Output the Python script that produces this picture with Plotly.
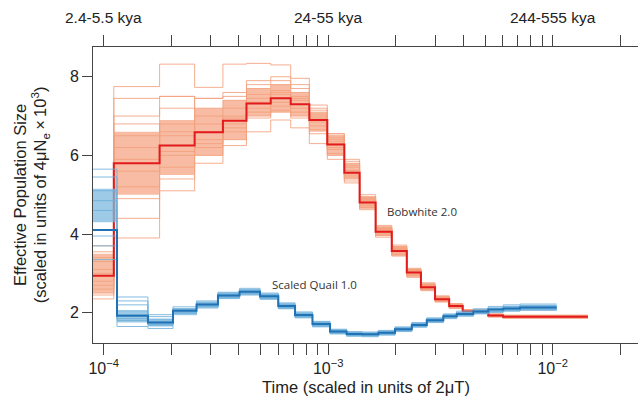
import plotly.graph_objects as go

# ---------------- data ----------------
# Bobwhite 2.0: step start times (last value = end of final step)
bobwhite_time = [8.95e-5, 1.109e-4, 1.774e-4, 2.541e-4, 3.396e-4, 4.325e-4, 5.546e-4,
                 6.808e-4, 8.241e-4, 9.908e-4, 1.180e-3, 1.380e-3, 1.626e-3, 1.919e-3,
                 2.239e-3, 2.588e-3, 2.992e-3, 3.459e-3, 3.972e-3, 5.164e-3, 6.010e-3, 1.435e-2]
bobwhite_ne = [2.94, 5.80, 6.25, 6.59, 6.88, 7.32, 7.45, 7.30, 6.90, 6.28, 5.56,
               4.80, 4.06, 3.57, 3.02, 2.65, 2.34, 2.17, 2.03, 1.93, 1.90]
bobwhite_band_lo = [2.50, 5.00, 5.50, 6.00, 6.40, 7.00, 7.10, 7.00, 6.60, 6.00, 5.40,
                    4.65, 3.95, 3.45, 2.92, 2.57, 2.28, 2.12, 1.98, 1.89, 1.86]
bobwhite_band_hi = [3.50, 6.60, 6.90, 7.20, 7.40, 7.70, 7.80, 7.60, 7.10, 6.50, 5.80,
                    4.95, 4.20, 3.70, 3.12, 2.75, 2.42, 2.23, 2.08, 1.97, 1.94]
bobwhite_boot = [
    [3.70, 7.75, 8.32, 7.73, 8.32, 8.34, 8.30, 7.96, 7.28, 6.55, 5.90, 5.00, 4.22, 3.72, 3.13, 2.76, 2.43, 2.23, 2.08, 1.97, 1.94],
    [2.35, 3.90, 5.10, 5.80, 6.25, 6.60, 6.90, 6.70, 6.30, 5.90, 5.30, 4.62, 3.92, 3.44, 2.90, 2.56, 2.27, 2.11, 1.98, 1.89, 1.86],
    [3.40, 7.45, 7.50, 7.45, 7.60, 7.90, 8.00, 7.80, 7.15, 6.50, 5.80, 4.95, 4.18, 3.68, 3.10, 2.73, 2.40, 2.21, 2.06, 1.96, 1.92],
    [2.60, 4.40, 5.40, 6.00, 6.40, 6.95, 7.10, 6.95, 6.55, 6.00, 5.40, 4.68, 3.97, 3.47, 2.94, 2.59, 2.30, 2.13, 2.00, 1.90, 1.88],
    [3.10, 7.00, 7.20, 7.20, 7.40, 7.70, 7.80, 7.60, 7.05, 6.40, 5.70, 4.90, 4.12, 3.62, 3.07, 2.70, 2.38, 2.20, 2.05, 1.95, 1.91],
    [2.80, 5.20, 5.70, 6.20, 6.60, 7.10, 7.25, 7.10, 6.75, 6.15, 5.45, 4.72, 4.00, 3.52, 2.97, 2.62, 2.32, 2.15, 2.01, 1.91, 1.89],
    [3.30, 6.50, 6.80, 7.00, 7.20, 7.55, 7.65, 7.45, 6.95, 6.35, 5.62, 4.85, 4.10, 3.60, 3.05, 2.68, 2.36, 2.19, 2.04, 1.94, 1.91],
    [2.50, 4.90, 6.00, 6.40, 6.80, 7.20, 7.35, 7.20, 6.85, 6.20, 5.50, 4.76, 4.03, 3.55, 3.00, 2.64, 2.33, 2.16, 2.02, 1.92, 1.90],
    [3.55, 6.20, 6.50, 6.80, 7.00, 7.45, 7.55, 7.40, 7.00, 6.45, 5.75, 4.88, 4.14, 3.63, 3.08, 2.71, 2.39, 2.21, 2.06, 1.95, 1.92],
    [2.70, 5.60, 7.50, 6.60, 6.95, 7.35, 7.60, 7.50, 7.10, 6.30, 5.60, 4.82, 4.08, 3.58, 3.03, 2.67, 2.35, 2.18, 2.03, 1.93, 1.90],
    [3.00, 6.80, 6.10, 7.45, 7.50, 7.80, 7.90, 7.70, 7.20, 6.55, 5.85, 4.93, 4.16, 3.66, 3.10, 2.72, 2.40, 2.22, 2.07, 1.96, 1.93],
    [2.45, 5.90, 6.60, 6.30, 6.70, 7.00, 7.15, 7.00, 6.65, 6.05, 5.35, 4.66, 3.96, 3.48, 2.93, 2.58, 2.29, 2.12, 1.99, 1.90, 1.87],
]

# Scaled Quail 1.0
quail_time = [8.95e-5, 1.146e-4, 1.574e-4, 2.035e-4, 2.591e-4, 3.228e-4, 4.027e-4, 4.970e-4,
              5.995e-4, 7.119e-4, 8.511e-4, 1.019e-3, 1.208e-3, 1.415e-3, 1.673e-3, 1.984e-3,
              2.357e-3, 2.748e-3, 3.258e-3, 3.736e-3, 4.430e-3, 5.164e-3, 6.026e-3, 7.150e-3, 1.042e-2]
quail_ne = [4.10, 1.92, 1.75, 2.05, 2.21, 2.44, 2.53, 2.42, 2.17, 1.94, 1.71, 1.52,
            1.46, 1.45, 1.49, 1.58, 1.69, 1.81, 1.91, 1.97, 2.03, 2.08, 2.11, 2.13]
quail_band_lo = [4.30, 1.75, 1.65, 1.98, 2.14, 2.37, 2.46, 2.35, 2.10, 1.87, 1.64, 1.46,
                 1.41, 1.40, 1.44, 1.53, 1.64, 1.76, 1.86, 1.92, 1.98, 2.02, 2.05, 2.07]
quail_band_hi = [5.15, 2.05, 1.85, 2.12, 2.28, 2.51, 2.60, 2.49, 2.24, 2.01, 1.78, 1.58,
                 1.51, 1.50, 1.54, 1.63, 1.74, 1.86, 1.96, 2.02, 2.08, 2.13, 2.18, 2.20]
quail_boot = [
    [5.65, 2.30, 1.95, 2.15, 2.30, 2.52, 2.62, 2.50, 2.25, 2.02, 1.78, 1.58, 1.52, 1.51, 1.55, 1.64, 1.75, 1.87, 1.97, 2.04, 2.10, 2.16, 2.20, 2.22],
    [3.35, 1.65, 1.60, 1.95, 2.12, 2.36, 2.45, 2.34, 2.10, 1.87, 1.64, 1.46, 1.40, 1.39, 1.43, 1.52, 1.63, 1.75, 1.85, 1.91, 1.97, 2.01, 2.04, 2.06],
    [5.45, 2.20, 1.90, 2.10, 2.27, 2.50, 2.58, 2.47, 2.22, 1.99, 1.75, 1.56, 1.50, 1.49, 1.53, 1.62, 1.73, 1.85, 1.95, 2.01, 2.07, 2.12, 2.16, 2.18],
    [3.70, 1.80, 1.68, 2.00, 2.16, 2.40, 2.49, 2.38, 2.13, 1.90, 1.67, 1.49, 1.43, 1.42, 1.46, 1.55, 1.66, 1.78, 1.88, 1.94, 1.99, 2.03, 2.07, 2.09],
    [5.10, 2.05, 1.82, 2.08, 2.24, 2.47, 2.56, 2.45, 2.20, 1.97, 1.73, 1.54, 1.48, 1.47, 1.51, 1.60, 1.71, 1.83, 1.93, 1.99, 2.05, 2.10, 2.14, 2.16],
    [4.60, 1.85, 1.72, 2.02, 2.18, 2.41, 2.50, 2.39, 2.14, 1.91, 1.68, 1.50, 1.44, 1.43, 1.47, 1.56, 1.67, 1.79, 1.89, 1.95, 2.00, 2.04, 2.08, 2.10],
    [4.85, 2.40, 1.78, 2.06, 2.22, 2.45, 2.54, 2.43, 2.18, 1.95, 1.72, 1.53, 1.47, 1.46, 1.50, 1.59, 1.70, 1.82, 1.92, 1.98, 2.04, 2.08, 2.12, 2.14],
    [3.95, 1.95, 1.70, 1.98, 2.14, 2.38, 2.47, 2.36, 2.12, 1.89, 1.66, 1.48, 1.42, 1.41, 1.45, 1.54, 1.65, 1.77, 1.87, 1.93, 1.98, 2.02, 2.05, 2.08],
]

x_tick_vals = [1e-4, 2e-4, 3e-4, 4e-4, 5e-4, 6e-4, 7e-4, 8e-4, 9e-4,
               1e-3, 2e-3, 3e-3, 4e-3, 5e-3, 6e-3, 7e-3, 8e-3, 9e-3, 1e-2, 2e-2]
decade_vals = [1e-4, 1e-3, 1e-2]
decade_text = ["10<sup>\u22124</sup>", "10<sup>\u22123</sup>", "10<sup>\u22122</sup>"]
top_labels = ["2.4-5.5 kya", "24-55 kya", "244-555 kya"]
y_tick_vals = [2, 4, 6, 8]

# ---------------- styles ----------------
RED = "rgb(226,26,28)"
BLUE = "rgb(33,113,181)"
ORANGE_L = "rgba(243,160,124,0.85)"
ORANGE_F = "rgba(244,166,132,0.75)"
BLUE_L = "rgba(110,176,218,0.85)"
BLUE_F = "rgba(124,184,222,0.75)"
AXC = "#444444"
FONT = "Liberation Sans, Arial, sans-serif"


def step_xy(times, vals):
    return list(times), list(vals) + [vals[-1]]


fig = go.Figure()


def add_series(times, main, lo, hi, boots, lcol, fcol, mcol):
    x, ylo = step_xy(times, lo)
    _, yhi = step_xy(times, hi)
    fig.add_trace(go.Scatter(x=x, y=ylo, mode="lines", line=dict(width=0, shape="hv", color=fcol),
                             showlegend=False, hoverinfo="skip"))
    fig.add_trace(go.Scatter(x=x, y=yhi, mode="lines", line=dict(width=0, shape="hv", color=fcol),
                             fill="tonexty", fillcolor=fcol, showlegend=False, hoverinfo="skip"))
    for b in boots:
        _, yb = step_xy(times, b)
        fig.add_trace(go.Scatter(x=x, y=yb, mode="lines", line=dict(width=1, shape="hv", color=lcol),
                                 showlegend=False, hoverinfo="skip"))
    return x


xb = add_series(bobwhite_time, bobwhite_ne, bobwhite_band_lo, bobwhite_band_hi, bobwhite_boot,
                ORANGE_L, ORANGE_F, RED)
_, yb = step_xy(bobwhite_time, bobwhite_ne)
fig.add_trace(go.Scatter(x=xb, y=yb, mode="lines", line=dict(width=2, shape="hv", color=RED),
                         showlegend=False))

xq = add_series(quail_time, quail_ne, quail_band_lo, quail_band_hi, quail_boot,
                BLUE_L, BLUE_F, BLUE)
_, yq = step_xy(quail_time, quail_ne)
fig.add_trace(go.Scatter(x=xq, y=yq, mode="lines", line=dict(width=2, shape="hv", color=BLUE),
                         showlegend=False))

tick_text = [decade_text[decade_vals.index(v)] if v in decade_vals else "" for v in x_tick_vals]

annotations = []
import math
for v, t in zip(decade_vals, top_labels):
    annotations.append(dict(x=math.log10(v), y=1.098, xref="x", yref="paper", text=t,
                            showarrow=False, xanchor="center", yanchor="middle",
                            font=dict(family=FONT, size=15.5, color="#222")))
annotations += [
    dict(x=0.5 - (365.5 - 366) / 545, y=-0.149, xref="paper", yref="paper",
         text="Time (scaled in units of 2\u03bcT)", showarrow=False,
         xanchor="center", yanchor="middle", font=dict(family=FONT, size=16.5, color="#222")),
    dict(x=-0.134, y=0.5, xref="paper", yref="paper", text="Effective Population Size",
         textangle=-90, showarrow=False, xanchor="center", yanchor="middle",
         font=dict(family=FONT, size=16.5, color="#222")),
    dict(x=-0.097, y=0.5, xref="paper", yref="paper",
         text="(scaled in units of 4\u03bcN<sub>e</sub>\u2009\u00d7\u200910<sup>3</sup>)",
         textangle=-90, showarrow=False, xanchor="center", yanchor="middle",
         font=dict(family=FONT, size=16.5, color="#222")),
    dict(x=math.log10(2.61e-3), y=4.57, xref="x", yref="y", text="Bobwhite 2.0",
         showarrow=False, font=dict(family="Open Sans, sans-serif", size=11.5, color="#333")),
    dict(x=math.log10(8.73e-4), y=2.73, xref="x", yref="y", text="Scaled Quail 1.0",
         showarrow=False, font=dict(family="Open Sans, sans-serif", size=11.5, color="#333")),
]

fig.update_layout(
    width=638, height=404,
    margin=dict(l=93, r=0, t=47, b=61),
    paper_bgcolor="white", plot_bgcolor="white",
    showlegend=False,
    annotations=annotations,
    xaxis=dict(type="log", range=[-4.0477, -1.620], tickvals=x_tick_vals, ticktext=tick_text,
               ticks="outside", ticklen=11, tickcolor=AXC, tickwidth=1,
               showline=True, linecolor=AXC, linewidth=1, mirror="ticks",
               showgrid=False, zeroline=False,
               tickfont=dict(family=FONT, size=16, color="#222")),
    yaxis=dict(range=[1.230, 8.756], tickvals=y_tick_vals, ticks="outside", ticklen=10,
               tickcolor=AXC, tickwidth=1, showline=True, linecolor=AXC, linewidth=1,
               mirror=False, showgrid=False, zeroline=False,
               tickfont=dict(family=FONT, size=16, color="#222")),
)

fig.write_html("out.html")
